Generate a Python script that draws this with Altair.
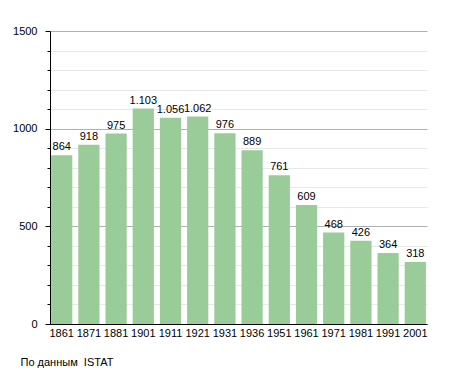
import altair as alt
import pandas as pd

years = ["1861", "1871", "1881", "1901", "1911", "1921", "1931", "1936",
         "1951", "1961", "1971", "1981", "1991", "2001"]
population = [864, 918, 975, 1103, 1056, 1062, 976, 889, 761, 609, 468, 426, 364, 318]
y_ticks = list(range(0, 1501, 100))

df = pd.DataFrame({"year": years, "value": population})

FONT = "Liberation Sans"

xaxis = alt.Axis(title="По данным\u00a0 ISTAT", titleX=-30, titleY=38, titleAlign="left",
                 titleBaseline="middle",
                 titleAnchor="start", titleFont=FONT, titleFontSize=11,
                 titleFontWeight="normal", titleColor="black",
                 labelAngle=0, ticks=False, domainColor="black",
                 labelColor="black", labelFont=FONT, labelFontSize=11,
                 labelPadding=3, grid=False)

yaxis = alt.Axis(title=None, values=y_ticks, labelOverlap=False, labelFlush=False,
                 labelExpr="datum.value % 500 === 0 ? datum.value : ''",
                 labelFont=FONT, labelFontSize=11, labelColor="black",
                 domainColor="black", tickColor="black",
                 tickSize={"condition": {"test": "datum.value % 500 === 0", "value": 5}, "value": 3},
                 labelPadding=8,
                 gridColor={"condition": {"test": "datum.value % 500 === 0", "value": "#b0b0b0"}, "value": "#e8e8e8"})

yenc = alt.Y("value:Q", scale=alt.Scale(domain=[0, 1500], nice=False), axis=yaxis)

base = alt.Chart(df).encode(
    x=alt.X("year:N", sort=None,
            scale=alt.Scale(paddingInner=0.22, paddingOuter=0.04),
            axis=xaxis),
    y=yenc,
)

bars = base.mark_bar(color="#99CC99")

labels = base.transform_calculate(
    lbl="replace(format(datum.value, ',d'), ',', '.')"
).mark_text(baseline="bottom", dy=-3, font=FONT, fontSize=11, color="black").encode(
    text="lbl:N",
)

chart = alt.layer(bars, labels).properties(
    width=377,
    height=293,
    autosize=alt.AutoSizeParams(type="none"),
    padding={"left": 42, "top": 23, "right": 20, "bottom": 48},
).configure_view(stroke=None)

chart.save("out.html", embed_options={"renderer": "svg", "actions": False})
